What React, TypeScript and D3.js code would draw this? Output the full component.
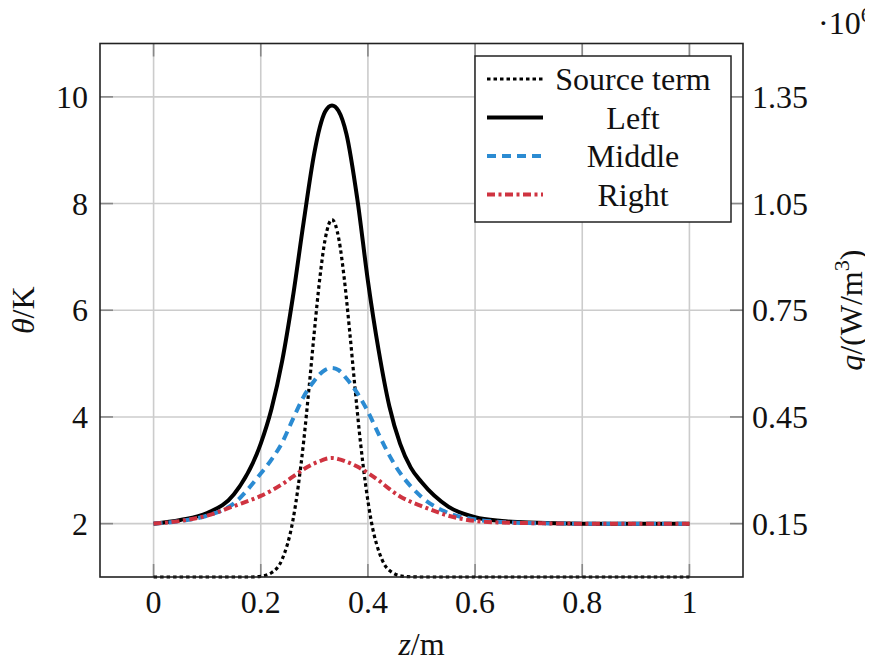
import React from "react";
import * as d3 from "d3";

// z positions (m) shared by the three temperature curves
const zVals = [0, 0.05, 0.1, 0.15, 0.2, 0.22, 0.24, 0.26, 0.28, 0.3, 0.31, 0.32, 0.333, 0.345, 0.36, 0.38, 0.4, 0.42, 0.44, 0.46, 0.48, 0.5, 0.55, 0.6, 0.65, 0.7, 0.8, 0.9, 1.0];
// theta / K
const leftVals = [2.0, 2.07, 2.2, 2.55, 3.5, 4.15, 5.05, 6.25, 7.65, 8.95, 9.42, 9.72, 9.84, 9.74, 9.3, 8.1, 6.55, 5.25, 4.2, 3.5, 3.05, 2.78, 2.32, 2.12, 2.05, 2.02, 2.0, 2.0, 2.0];
const middleVals = [2.0, 2.05, 2.15, 2.38, 2.94, 3.2, 3.52, 3.96, 4.38, 4.68, 4.8, 4.88, 4.92, 4.88, 4.72, 4.45, 4.1, 3.68, 3.28, 2.95, 2.7, 2.5, 2.2, 2.08, 2.03, 2.01, 2.0, 2.0, 2.0];
const rightVals = [2.0, 2.05, 2.15, 2.33, 2.52, 2.62, 2.74, 2.88, 3.02, 3.13, 3.17, 3.21, 3.23, 3.21, 3.16, 3.07, 2.95, 2.81, 2.65, 2.51, 2.41, 2.33, 2.15, 2.05, 2.02, 2.01, 2.0, 2.0, 2.0];

// source term q (1e6 W/m^3), right axis
const sourceZ = [0, 0.18, 0.2, 0.22, 0.24, 0.26, 0.28, 0.29, 0.3, 0.31, 0.32, 0.333, 0.346, 0.356, 0.366, 0.376, 0.386, 0.406, 0.426, 0.446, 0.466, 0.5, 1.0];
const sourceVals = [0, 0, 0.002, 0.012, 0.05, 0.159, 0.38, 0.53, 0.69, 0.837, 0.948, 1.005, 0.948, 0.837, 0.69, 0.53, 0.38, 0.159, 0.05, 0.012, 0.002, 0, 0];

const xTicks = [0, 0.2, 0.4, 0.6, 0.8, 1];
const yTicks = [2, 4, 6, 8, 10];
const qTicks = [0.15, 0.45, 0.75, 1.05, 1.35];

const legendItems = [
  { name: "Source term", color: "#000", width: 3.2, dash: "3.5 3" },
  { name: "Left", color: "#000", width: 4, dash: "" },
  { name: "Middle", color: "#2b8bd2", width: 4, dash: "9 6" },
  { name: "Right", color: "#cf3340", width: 4, dash: "8 3.5 3 3.5" },
];

const css = `text, tspan { font-family: "Liberation Serif", "Tinos", "Times New Roman" !important; }`;

export default function App() {
  const W = 873, H = 666;
  const L = 100, R = 743, T = 43.5, B = 577;
  // the svg sits inside the body's 8px margin; shift content back
  const off = 8;

  const x = d3.scaleLinear().domain([-0.1, 1.1]).range([L, R]);
  const y = d3.scaleLinear().domain([1, 11]).range([B, T]);
  const yq = d3.scaleLinear().domain([0, 1.5]).range([B, T]);

  const line = d3.line<[number, number]>()
    .x(d => x(d[0]))
    .y(d => y(d[1]))
    .curve(d3.curveMonotoneX);
  const lineQ = d3.line<[number, number]>()
    .x(d => x(d[0]))
    .y(d => yq(d[1]))
    .curve(d3.curveMonotoneX);

  const zip = (a: number[], b: number[]) => a.map((v, i) => [v, b[i]] as [number, number]);
  const series = [
    { d: lineQ(zip(sourceZ, sourceVals)), ...legendItems[0] },
    { d: line(zip(zVals, leftVals)), ...legendItems[1] },
    { d: line(zip(zVals, middleVals)), ...legendItems[2] },
    { d: line(zip(zVals, rightVals)), ...legendItems[3] },
  ];

  const fs = 32;
  const tickLen = 13;

  return (
    <svg width={W - off} height={H - off} fontFamily="Liberation Serif">
      <style>{css}</style>
      <g transform={`translate(${-off}, ${-off})`}>
        <rect x={0} y={0} width={W} height={H} fill="#fff" />
        {/* grid */}
        <g stroke="#cccccc" strokeWidth={1.6}>
          {xTicks.map(t => <line key={"gx" + t} x1={x(t)} x2={x(t)} y1={T} y2={B} />)}
          {yTicks.map(t => <line key={"gy" + t} x1={L} x2={R} y1={y(t)} y2={y(t)} />)}
        </g>
        {/* ticks */}
        <g stroke="#888" strokeWidth={1.6}>
          {xTicks.map(t => (
            <g key={"tx" + t}>
              <line x1={x(t)} x2={x(t)} y1={B} y2={B - tickLen} />
              <line x1={x(t)} x2={x(t)} y1={T} y2={T + tickLen} />
            </g>
          ))}
          {yTicks.map(t => <line key={"ty" + t} x1={L} x2={L + tickLen} y1={y(t)} y2={y(t)} />)}
          {qTicks.map(t => <line key={"tq" + t} x1={R} x2={R - tickLen} y1={yq(t)} y2={yq(t)} />)}
        </g>
        {/* curves */}
        <g fill="none">
          {series.map(s => (
            <path key={s.name} d={s.d || ""} stroke={s.color} strokeWidth={s.width}
              strokeDasharray={s.dash || undefined} />
          ))}
        </g>
        {/* frame */}
        <rect x={L} y={T} width={R - L} height={B - T} fill="none" stroke="#222" strokeWidth={1.6} />
        {/* tick labels */}
        <g fontSize={fs} fill="#111">
          {xTicks.map(t => (
            <text key={"lx" + t} x={x(t)} y={613} textAnchor="middle">{d3.format("~g")(t)}</text>
          ))}
          {yTicks.map(t => (
            <text key={"ly" + t} x={88} y={y(t) + 11} textAnchor="end">{t}</text>
          ))}
          {qTicks.map(t => (
            <text key={"lq" + t} x={752} y={yq(t) + 11} textAnchor="start">{d3.format(".2f")(t)}</text>
          ))}
          {/* axis titles */}
          <text x={(L + R) / 2} y={655} textAnchor="middle">
            <tspan fontStyle="italic">z</tspan>/m
          </text>
          <text transform={`translate(34, ${(T + B) / 2}) rotate(-90)`} textAnchor="middle">
            <tspan fontStyle="italic">θ</tspan>/K
          </text>
          <text transform={`translate(862, ${(T + B) / 2}) rotate(-90)`} textAnchor="middle">
            <tspan fontStyle="italic">q</tspan>/(W/m<tspan fontSize={22} dy={-13}>3</tspan><tspan dy={13}>)</tspan>
          </text>
          <text x={818} y={34}>
            ·10<tspan fontSize={22} dy={-12}>6</tspan>
          </text>
        </g>
        {/* legend */}
        <rect x={475} y={56} width={256} height={166} fill="#fff" stroke="#222" strokeWidth={1.5} />
        {legendItems.map((it, i) => {
          const ry = 79 + i * 38.5;
          return (
            <g key={"lg" + it.name}>
              <line x1={487} x2={543} y1={ry} y2={ry} stroke={it.color} strokeWidth={it.width}
                strokeDasharray={it.dash || undefined} />
              <text x={633} y={ry + 11} textAnchor="middle" fontSize={fs} fill="#111">{it.name}</text>
            </g>
          );
        })}
      </g>
    </svg>
  );
}
